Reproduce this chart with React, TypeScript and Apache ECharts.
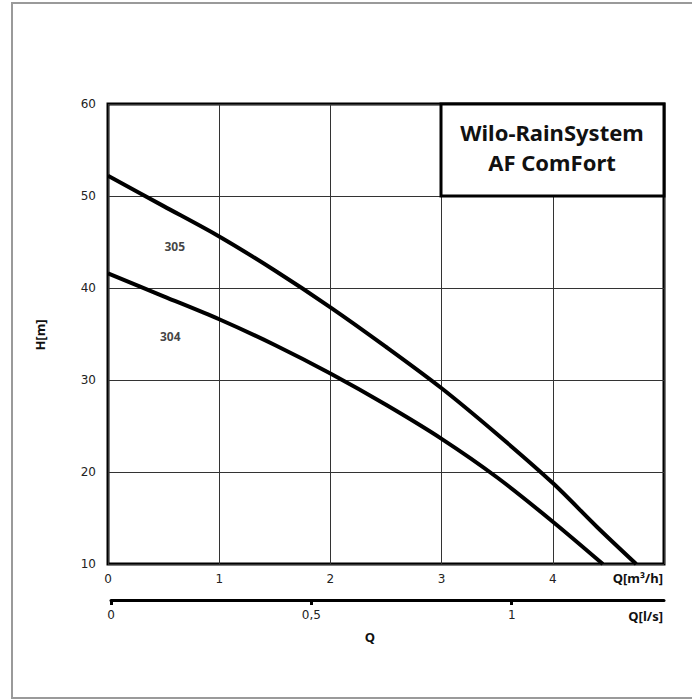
import React, { useEffect, useRef } from "react";
import * as echarts from "echarts";

const qTicks = [0, 1, 2, 3, 4];
const hTicks = [10, 20, 30, 40, 50, 60];
const lsTicks = [0, 0.5, 1];

const q305 = [0, 0.5, 1, 1.5, 2, 2.5, 3, 3.5, 4, 4.4, 4.75];
const h305 = [52.2, 48.9, 45.6, 41.9, 37.9, 33.6, 29.1, 24.1, 18.8, 14.0, 10];

const q304 = [0, 0.5, 1, 1.5, 2, 2.5, 3, 3.5, 4, 4.45];
const h304 = [41.6, 39.1, 36.6, 33.8, 30.7, 27.3, 23.6, 19.4, 14.6, 10];

const curveNames = ["305", "304"];
const labelPos = [
  [0.6, 44.5],
  [0.56, 34.7],
];

const titleLines = ["Wilo-RainSystem", "AF ComFort"];

const TICK_FONT = "'DejaVu Sans', sans-serif";
const BOLD_FONT = "'Noto Sans', 'Open Sans', sans-serif";

export default function App() {
  const ref = useRef<HTMLDivElement>(null);
  useEffect(() => {
    if (!ref.current) return;
    const chart = echarts.init(ref.current, null, { renderer: "svg" });
    const pairs = (qs: number[], hs: number[]) => qs.map((q, i) => [q, hs[i]]);
    chart.setOption({
      animation: false,
      backgroundColor: "#fff",
      grid: [
        { left: 108, top: 104, width: 556, height: 460, show: true, borderColor: "#000", borderWidth: 3, containLabel: false },
        { left: 111, top: 599, width: 553, height: 1, containLabel: false },
      ],
      xAxis: [
        {
          type: "value",
          gridIndex: 0,
          min: 0,
          max: 5,
          interval: 1,
          axisLine: { show: false },
          axisTick: { show: false },
          splitLine: { show: true, lineStyle: { color: "#333", width: 1 } },
          axisLabel: {
            margin: 9,
            fontFamily: TICK_FONT,
            fontSize: 12,
            color: "#222",
            formatter: (v: number) => (qTicks.includes(v) ? String(v) : ""),
          },
        },
        {
          type: "value",
          gridIndex: 1,
          min: 0,
          max: 1.38,
          interval: 0.5,
          axisLine: { show: true, lineStyle: { color: "#000", width: 3 } },
          axisTick: { show: true, length: 5, lineStyle: { color: "#000", width: 3 } },
          splitLine: { show: false },
          axisLabel: {
            margin: 9,
            fontFamily: TICK_FONT,
            fontSize: 12,
            color: "#222",
            showMaxLabel: false,
            formatter: (v: number) => (lsTicks.includes(v) ? String(v).replace(".", ",") : ""),
          },
        },
      ],
      yAxis: [
        {
          type: "value",
          gridIndex: 0,
          min: 10,
          max: 60,
          interval: 10,
          axisLine: { show: false },
          axisTick: { show: false },
          splitLine: { show: true, lineStyle: { color: "#333", width: 1 } },
          axisLabel: {
            margin: 12,
            fontFamily: TICK_FONT,
            fontSize: 12,
            color: "#222",
            formatter: (v: number) => (hTicks.includes(v) ? String(v) : ""),
          },
        },
        { type: "value", gridIndex: 1, show: false, min: 0, max: 1 },
      ],
      series: [
        {
          type: "line",
          name: curveNames[0],
          data: pairs(q305, h305),
          smooth: 0.3,
          symbol: "none",
          lineStyle: { color: "#000", width: 4 },
          z: 5,
        },
        {
          type: "line",
          name: curveNames[1],
          data: pairs(q304, h304),
          smooth: 0.3,
          symbol: "none",
          lineStyle: { color: "#000", width: 4 },
          z: 5,
        },
        {
          type: "scatter",
          data: labelPos.map((p, i) => ({ value: p, name: curveNames[i] })),
          symbolSize: 0,
          silent: true,
          label: {
            show: true,
            position: "inside",
            formatter: (p: any) => p.name,
            fontFamily: BOLD_FONT,
            fontWeight: "bold",
            fontSize: 12,
            color: "#111",
          },
          z: 6,
        },
      ],
      graphic: [
        {
          type: "rect",
          shape: { x: 12, y: 3, width: 700, height: 695 },
          style: { fill: "none", stroke: "#9a9a9a", lineWidth: 2 },
          z: 1,
        },
        {
          type: "rect",
          shape: { x: 441, y: 104, width: 223, height: 92 },
          style: { fill: "#fff", stroke: "#000", lineWidth: 3 },
          z: 100,
        },
        {
          type: "text",
          x: 552,
          y: 132,
          style: {
            text: titleLines[0],
            fontFamily: BOLD_FONT,
            fontWeight: "bold",
            fontSize: 22,
            fill: "#111",
            align: "center",
            verticalAlign: "middle",
          },
          z: 101,
        },
        {
          type: "text",
          x: 552,
          y: 162,
          style: {
            text: titleLines[1],
            fontFamily: BOLD_FONT,
            fontWeight: "bold",
            fontSize: 22,
            fill: "#111",
            align: "center",
            verticalAlign: "middle",
          },
          z: 101,
        },
        {
          type: "text",
          x: 40,
          y: 335,
          rotation: Math.PI / 2,
          style: {
            text: "H[m]",
            fontFamily: BOLD_FONT,
            fontWeight: "bold",
            fontSize: 13,
            fill: "#111",
            align: "center",
            verticalAlign: "middle",
          },
          z: 101,
        },
        {
          type: "text",
          x: 663,
          y: 578,
          style: {
            text: "Q[m³/h]",
            fontFamily: BOLD_FONT,
            fontWeight: "bold",
            fontSize: 13,
            fill: "#111",
            align: "right",
            verticalAlign: "middle",
          },
          z: 101,
        },
        {
          type: "text",
          x: 663,
          y: 616,
          style: {
            text: "Q[l/s]",
            fontFamily: BOLD_FONT,
            fontWeight: "bold",
            fontSize: 13,
            fill: "#111",
            align: "right",
            verticalAlign: "middle",
          },
          z: 101,
        },
        {
          type: "text",
          x: 370,
          y: 637,
          style: {
            text: "Q",
            fontFamily: BOLD_FONT,
            fontWeight: "bold",
            fontSize: 13,
            fill: "#111",
            align: "center",
            verticalAlign: "middle",
          },
          z: 101,
        },
      ],
    });
    return () => chart.dispose();
  }, []);
  return (
    <div
      ref={ref}
      style={{ position: "fixed", left: 0, top: 0, width: 692, height: 699, background: "#fff" }}
    />
  );
}
